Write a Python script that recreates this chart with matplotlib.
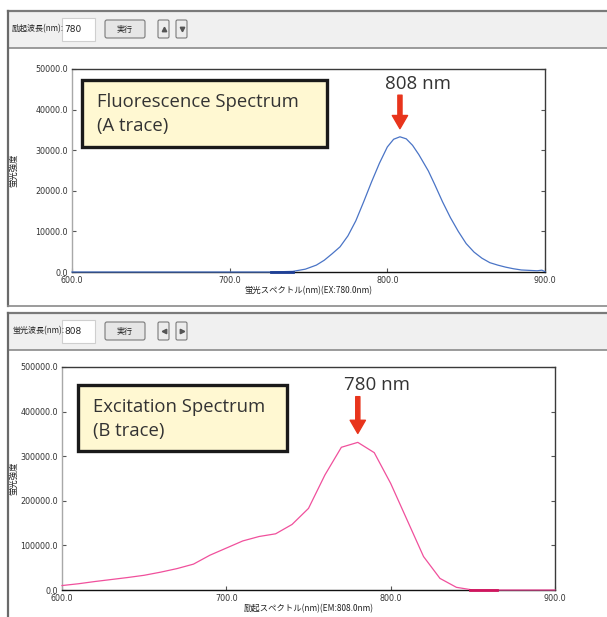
import matplotlib
matplotlib.use("Agg")
import matplotlib.pyplot as plt
from matplotlib.patches import Rectangle, FancyBboxPatch
import numpy as np

W, H = 607, 617

# fluorescence spectrum (A trace), EX 780 nm
fl_wl = [600, 650, 700, 726, 740, 748, 755, 760, 765, 770, 775, 780, 785, 790,
         795, 800, 804, 808, 812, 816, 820, 823, 826, 830, 835, 840, 845, 850,
         855, 860, 865, 870, 875, 880, 885, 890, 895, 898, 900]
fl_val = [0, 0, 0, 0, 150, 700, 1700, 2900, 4500, 6200, 8900, 12600, 17300, 22200,
          26800, 30800, 32700, 33300, 32800, 31200, 28900, 26900, 24900, 21600,
          17300, 13400, 10000, 7000, 4900, 3400, 2300, 1700, 1200, 800, 500, 400,
          300, 450, 100]

# excitation spectrum (B trace), EM 808 nm
ex_wl = [600, 610, 620, 630, 640, 650, 660, 670, 680, 690, 700, 710, 720, 730,
         740, 750, 760, 770, 780, 790, 800, 810, 820, 830, 840, 850, 860, 870,
         880, 890, 900]
ex_val = [10000, 14000, 19000, 23500, 28000, 33000, 40000, 48000, 58000, 78000,
          94000, 110000, 120000, 126000, 147000, 183000, 258000, 320000, 331000,
          308000, 239000, 157000, 75000, 26000, 6000, 0, 0, 0, 0, 0, 0]

fl_ticks_y = [0, 10000, 20000, 30000, 40000, 50000]
ex_ticks_y = [0, 100000, 200000, 300000, 400000, 500000]
x_ticks = [600, 700, 800, 900]

jp = ['Noto Sans CJK JP', 'DejaVu Sans']
narrow = ['Liberation Sans Narrow', 'DejaVu Sans']
txt = ['Open Sans', 'DejaVu Sans']
red = '#e8341c'

fig = plt.figure(figsize=(W / 100, H / 100), dpi=100, facecolor='white')

bg = fig.add_axes([0, 0, 1, 1], zorder=0)
bg.set_xlim(0, W)
bg.set_ylim(H, 0)
bg.axis('off')


def toolbar(y0, label, value, arrows):
    bg.add_patch(Rectangle((8, y0), W - 8, 37, facecolor='#f0f0f0', edgecolor='none'))
    bg.plot([8, W], [y0, y0], color='#7a7a7a', lw=1.6)
    bg.plot([8, W], [y0 + 37, y0 + 37], color='#8a8a8a', lw=1.2)
    bg.text(12, y0 + 18, label, family=jp, fontsize=5.8, va='center', color='#222')
    bg.add_patch(Rectangle((62, y0 + 7), 33, 23, facecolor='white', edgecolor='#cfcfcf', lw=0.8))
    bg.text(64, y0 + 18, value, family=narrow, fontsize=6.5, va='center', color='#222')
    bg.add_patch(FancyBboxPatch((105, y0 + 9), 40, 18, boxstyle='round,pad=0,rounding_size=2',
                                facecolor='#e6e6e6', edgecolor='#7a7a7a', lw=0.8))
    bg.text(125, y0 + 18, '実行', family=jp, fontsize=5.8, ha='center', va='center', color='#222')
    for x0, m in zip([158, 176], arrows):
        bg.add_patch(FancyBboxPatch((x0, y0 + 9), 11, 18,
                                    boxstyle='round,pad=0,rounding_size=1.5',
                                    facecolor='#ececec', edgecolor='#7a7a7a', lw=0.8))
        bg.plot(x0 + 5.5, y0 + 18, marker=m, ms=3.2, color='#555', mec='#555')


toolbar(11, '励起波長(nm):', '780', ['^', 'v'])
toolbar(313, '蛍光波長(nm):', '808', ['<', '>'])
# window borders
bg.plot([8, 8], [11, 306], color='#6a6a6a', lw=1.6)
bg.plot([8, W], [306, 306], color='#8a8a8a', lw=1.2)
bg.plot([8, 8], [313, H], color='#6a6a6a', lw=1.6)


def make_axes(l, r, t, b):
    ax = fig.add_axes([l / W, 1 - b / H, (r - l) / W, (b - t) / H], zorder=1)
    ax.set_facecolor('white')
    for s in ['top', 'right']:
        ax.spines[s].set_color('#3a3a3a')
    ax.spines['left'].set_color('#a8a8a8')
    ax.spines['bottom'].set_color('#111')
    for s in ax.spines.values():
        s.set_linewidth(1.0)
    ax.tick_params(direction='in', length=3, width=0.8, colors='#555',
                   labelcolor='#333', labelsize=5.8, pad=3)
    ax.tick_params(axis='y', right=True)
    ax.set_xlim(600, 900)
    ax.set_xticks(x_ticks)
    ax.set_xticklabels([f'{v:.1f}' for v in x_ticks], family=narrow)
    return ax


ax1 = make_axes(72, 545, 69, 272)
ax1.plot(fl_wl, fl_val, color='#4a74c6', lw=0.9, clip_on=False, zorder=3)
ax1.plot([726, 740], [0, 0], color='#1e3f95', lw=2.0, clip_on=False, zorder=4)
ax1.set_ylim(0, 50000)
ax1.set_yticks(fl_ticks_y)
ax1.set_yticklabels([f'{v:.1f}' for v in fl_ticks_y], family=narrow)
ax1.set_xlabel('蛍光スペクトル(nm)(EX:780.0nm)', family=jp, fontsize=6, color='#222', labelpad=1)
ax1.set_ylabel('蛍光強度', family=jp, fontsize=6, color='#222')
ax1.yaxis.set_label_coords((18 - 72) / (545 - 72), 0.5)

ax2 = make_axes(62, 555, 367, 590)
ax2.plot(ex_wl, ex_val, color='#f0509c', lw=0.9, clip_on=False, zorder=3)
ax2.plot([848, 865], [0, 0], color='#d0155e', lw=2.0, clip_on=False, zorder=4)
ax2.set_ylim(0, 500000)
ax2.set_yticks(ex_ticks_y)
ax2.set_yticklabels([f'{v:.1f}' for v in ex_ticks_y], family=narrow)
ax2.set_xlabel('励起スペクトル(nm)(EM:808.0nm)', family=jp, fontsize=6, color='#222', labelpad=1)
ax2.set_ylabel('蛍光強度', family=jp, fontsize=6, color='#222')
ax2.yaxis.set_label_coords((18 - 62) / (555 - 62), 0.5)

# peak arrows
for ax, wl, val, top in [(ax1, fl_wl, fl_val, 50000), (ax2, ex_wl, ex_val, 500000)]:
    i = int(np.argmax(val))
    pk = wl[i]
    ax.annotate('', xy=(pk, val[i] + 0.04 * top), xytext=(pk, val[i] + 0.205 * top),
                arrowprops=dict(width=3, headwidth=11, headlength=9.5, color=red, shrink=0),
                annotation_clip=False, zorder=6)
    ax.text(pk + 11.5, val[i] + 0.215 * top, f'{pk} nm', family=txt, fontsize=13.5,
            ha='center', va='bottom', color='#333', zorder=6)

fg = fig.add_axes([0, 0, 1, 1], zorder=5)
fg.set_xlim(0, W)
fg.set_ylim(H, 0)
fg.axis('off')
fg.patch.set_alpha(0)

for (x0, y0, x1, y1), lines in [((82, 80, 327, 147), ['Fluorescence Spectrum', '(A trace)']),
                                ((78, 385, 287, 451), ['Excitation Spectrum', '(B trace)'])]:
    fg.add_patch(Rectangle((x0, y0), x1 - x0, y1 - y0, facecolor='#fff8d2', edgecolor='#1a1a1a', lw=2.4))
    fg.text(x0 + 15, y0 + 22, lines[0], family=txt, fontsize=13.3, va='center', color='#333')
    fg.text(x0 + 15, y0 + 46, lines[1], family=txt, fontsize=13.3, va='center', color='#333')

fig.savefig('out.png', dpi=100, facecolor='white')
